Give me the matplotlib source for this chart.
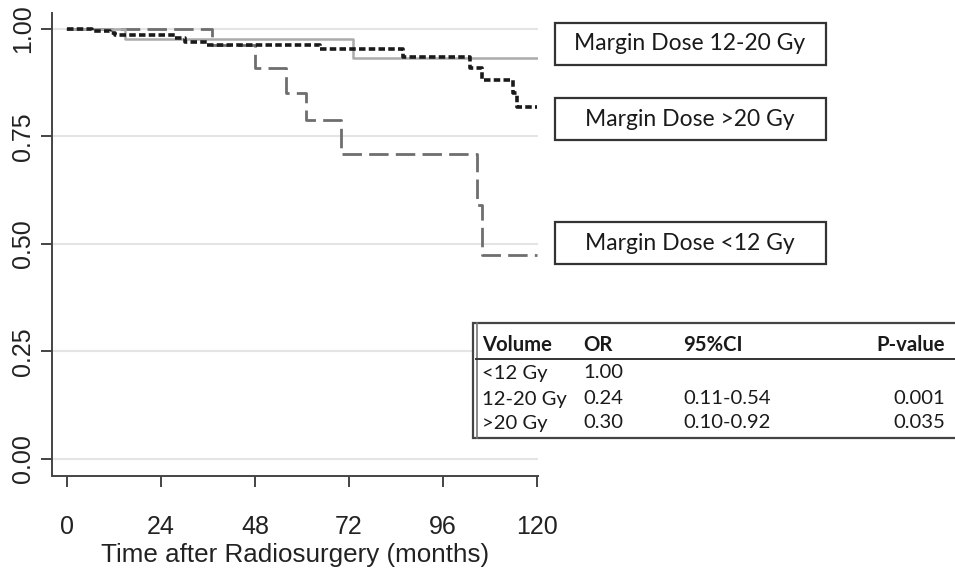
import matplotlib.pyplot as plt
from matplotlib.patches import Rectangle

# Kaplan-Meier step data: event times (months) and survival estimates
t_12_20 = [0, 14.8, 73.0]
s_12_20 = [1.0, 0.977, 0.933]

t_over20 = [0, 6.4, 11.0, 12.3, 27.6, 30.1, 35.7, 64.6, 85.8, 102.9, 105.9, 113.9, 114.9]
s_over20 = [1.0, 0.995, 0.991, 0.986, 0.979, 0.970, 0.963, 0.953, 0.935, 0.909, 0.881, 0.851, 0.819]

t_under12 = [0, 37.0, 48.0, 55.9, 61.0, 70.0, 104.7, 105.9]
s_under12 = [1.0, 0.963, 0.909, 0.851, 0.788, 0.709, 0.591, 0.474]

t_max = 120
x_ticks = [0, 24, 48, 72, 96, 120]
y_ticks = [0.0, 0.25, 0.5, 0.75, 1.0]

# odds ratio table
tbl_header = ["Volume", "OR", "95%CI", "P-value"]
tbl_volume = ["<12 Gy", "12-20 Gy", ">20 Gy"]
tbl_or = ["1.00", "0.24", "0.30"]
tbl_ci = ["", "0.11-0.54", "0.10-0.92"]
tbl_p = ["", "0.001", "0.035"]

W, H = 955, 573
fig = plt.figure(figsize=(W / 100, H / 100), dpi=100)
fig.patch.set_facecolor("white")

ax = fig.add_axes([52 / W, 1 - 476 / H, (538 - 52) / W, (476 - 13) / H])
ax.set_xlim(-3.85, 120.3)
ax.set_ylim(-0.04, 1.037)

for y in y_ticks:
    ax.axhline(y, color="#e4e4e4", lw=1.5, zorder=0)


def km(t, s):
    return t + [t_max], s + [s[-1]]


x, y = km(t_12_20, s_12_20)
ax.step(x, y, where="post", color="#ababab", lw=1.8, zorder=3)
x, y = km(t_under12, s_under12)
ax.step(x, y, where="post", color="#6e6e6e", lw=2.0, dashes=(7, 2.6), zorder=2)
x, y = km(t_over20, s_over20)
ax.step(x, y, where="post", color="#1a1a1a", lw=2.6, dashes=(1.8, 0.9), zorder=4)

for side in ["top", "right"]:
    ax.spines[side].set_visible(False)
for side in ["left", "bottom"]:
    ax.spines[side].set_color("#444444")
    ax.spines[side].set_linewidth(1.4)

ax.set_xticks(x_ticks)
ax.set_yticks(y_ticks)
ax.set_yticklabels(["%.2f" % v for v in y_ticks], rotation=90, va="center")
ax.tick_params(axis="both", length=8, width=1.4, color="#444444",
               labelsize=18, labelcolor="#222222")
ax.tick_params(axis="x", pad=20)
ax.tick_params(axis="y", pad=4)
for lbl in ax.get_xticklabels() + ax.get_yticklabels():
    lbl.set_family("Liberation Sans")

ax.set_xlabel("Time after Radiosurgery (months)", fontsize=18.7,
              family="Liberation Sans", color="#222222", va="center")
ax.xaxis.set_label_coords(0.5, (476 - 555) / (476 - 13))

# overlay in pixel coordinates for the labels and the table
ov = fig.add_axes([0, 0, 1, 1], zorder=5)
ov.set_xlim(0, W)
ov.set_ylim(H, 0)
ov.axis("off")
ov.patch.set_alpha(0)

box_font = "Lato"
labels = ["Margin Dose 12-20 Gy", "Margin Dose >20 Gy", "Margin Dose <12 Gy"]
box_tops = [23, 98, 222]
for txt, top in zip(labels, box_tops):
    ov.add_patch(Rectangle((555, top), 271, 42, fill=True, fc="white",
                           ec="#333333", lw=1.6))
    ov.text(690, top + 21, txt, ha="center", va="center", fontsize=16.5,
            family=box_font, color="#1a1a1a")

# table frame
ov.add_patch(Rectangle((473, 323), 490, 115, fill=True, fc="white",
                       ec="#444444", lw=1.6))
ov.plot([476.5, 476.5], [323, 438], color="#777777", lw=1.2)
ov.plot([476, W], [359, 359], color="#333333", lw=1.4)

col_x = [482, 583, 683, 945]
col_ha = ["left", "left", "left", "right"]
for cx, ha, h in zip(col_x, col_ha, tbl_header):
    ov.text(cx, 345, h, ha=ha, va="center", fontsize=14.6, family=box_font,
            fontweight="bold", color="#1a1a1a")

row_y = [373, 399, 423]
for ry, v, o, c, p in zip(row_y, tbl_volume, tbl_or, tbl_ci, tbl_p):
    for cx, ha, val in zip(col_x, col_ha, [v, o, c, p]):
        ov.text(cx, ry, val, ha=ha, va="center", fontsize=14.6,
                family=box_font, color="#1a1a1a")

fig.savefig("out.png", dpi=100)
